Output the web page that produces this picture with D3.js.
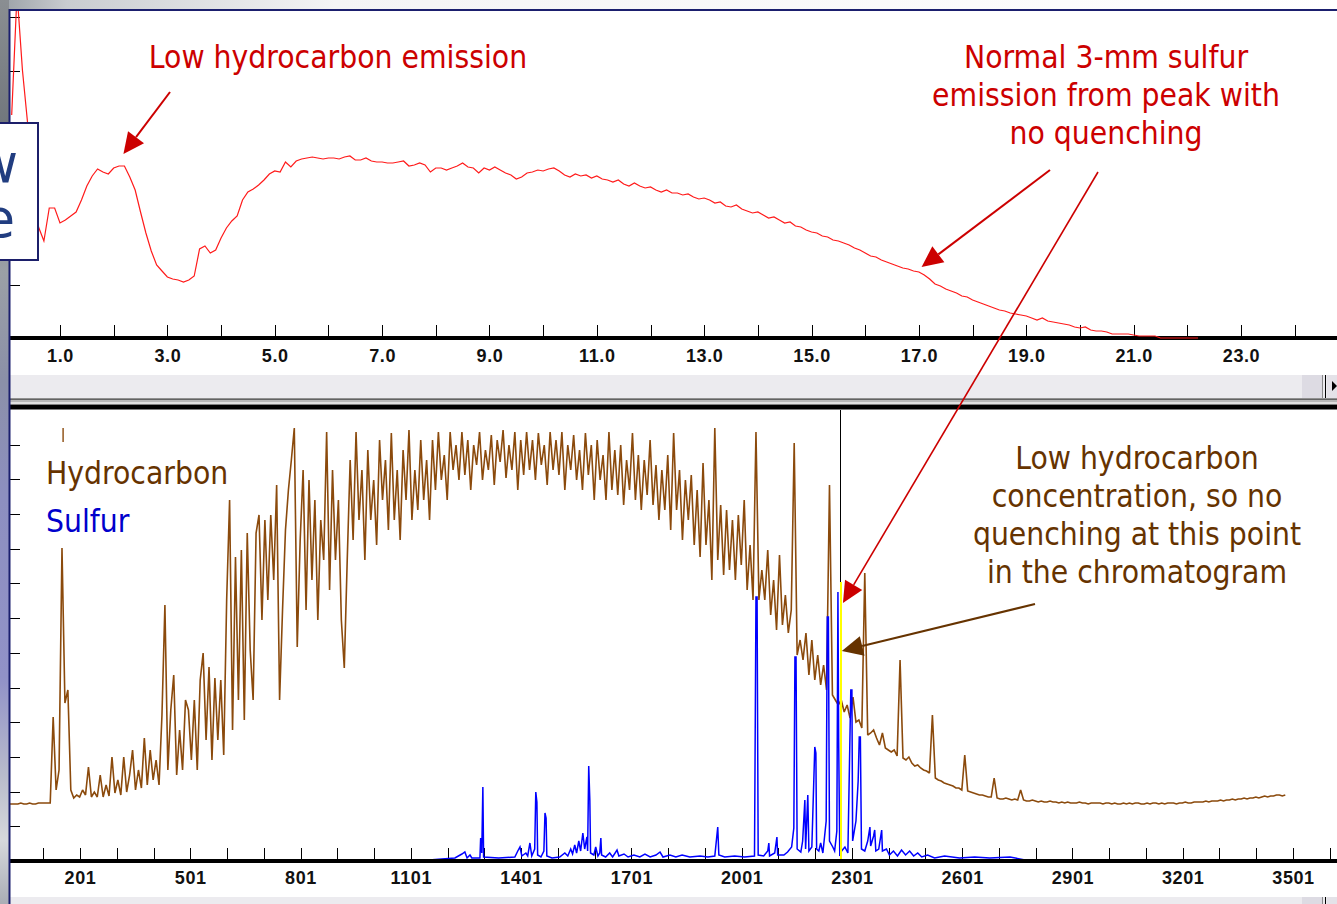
<!DOCTYPE html>
<html>
<head>
<meta charset="utf-8">
<script src="https://cdn.jsdelivr.net/npm/d3@7"></script>
<style>
  html, body { margin: 0; padding: 0; background: #fff; overflow: hidden; }
  svg { display: block; }
</style>
</head>
<body>
<svg id="chart" width="1337" height="904"></svg>
<script>
// ---------------------------------------------------------------
// Upper trace: detector emission vs. retention time (minutes)
// sampled every 0.1 min starting at 0.1 min
// ---------------------------------------------------------------
const emissionStart = 0.1;
const emissionStep = 0.1;
const emission = [
  223,345,268,213,158,111,97,130,130,115,
  118,122,126,138,152,162,169,166,164,170,
  172,172,161,148,126,105,87,73,67,61,
  59,58,56,58,62,89,92,85,88,100,
  110,117,122,138,146,149,153,158,164,167,
  166,176,171,177,179,180,181,180,179,180,
  180,179,181,182,178,178,180,177,176,176,
  175,175,176,177,172,173,175,173,166,170,
  170,168,170,172,175,171,170,165,170,168,
  171,168,165,163,159,161,165,166,168,167,
  169,170,167,163,161,164,162,163,160,162,
  159,158,156,158,154,152,155,152,150,151,
  148,146,148,145,145,143,144,141,139,140,
  138,135,136,132,131,133,129,127,125,126,
  123,120,121,118,115,116,112,111,108,106,
  105,102,101,98,97,95,93,90,88,85,
  82,81,78,76,74,72,70,69,67,66,
  63,59,54,52,49,47,45,42,41,38,
  36,34,32,30,28,27,25,24,23,22,
  20,18,20,17,16,15,14,13,11,10,
  11,8,7,7,6,4,4,4,4,3,
  2,2,2,2,0,0,0,0,0,0,
  0,0
];

// Upper axis: retention time ticks (every minute, labels on odd minutes)
const timeTicks = d3.range(1, 25);
const timeLabels = [1, 3, 5, 7, 9, 11, 13, 15, 17, 19, 21, 23];

// ---------------------------------------------------------------
// Lower chromatogram: hydrocarbon channel, every 8th data point from point 8
// ---------------------------------------------------------------
const hydrocarbonStart = 8;
const hydrocarbonStep = 8;
const hydrocarbon = [
  57,57,57,57,58,57,57,58,57,57,58,58,58,58,58,
  144,71,91,313,158,171,71,63,66,64,71,66,94,64,69,
  64,86,64,76,65,104,68,81,66,104,69,86,111,71,91,
  73,123,76,111,81,101,76,146,256,91,151,186,86,131,91,
  161,151,101,161,91,181,208,121,194,101,183,121,181,106,261,
  361,131,304,161,311,141,328,211,161,328,346,241,341,261,346,
  281,376,161,251,331,371,401,433,214,321,
  391,251,381,281,361,241,341,301,429,271,
  391,301,361,241,193,301,401,321,429,341,
  391,301,411,341,381,316,421,361,401,331,
  428,341,391,321,411,361,431,341,391,351,
  421,361,401,341,421,371,429,381,406,361,
  429,
  391,416,381,429,386,421,371,416,396,429,
  381,411,391,426,376,421,399,431,383,416,
  391,429,371,421,386,429,391,421,381,428,
  396,416,376,429,391,421,386,429,371,416,
  391,426,381,411,
  371,428,386,416,361,421,381,406,361,429,
  371,411,366,416,356,401,371,428,361,406,
  351,401,366,421,356,396,341,391,351,406,
  331,428,351,391,321,381,341,386,316,371,
  304,398,316,361,281,433,301,356,286,351,
  291,341,281,346,296,361,271,316,261,429,
  261,291,261,311,246,281,231,306,236,266,
  228,251,418,206,221,201,228,186,221,181,
  206,176,196,171,376,166,161,156,161,149,
  156,143,164,139,141,133,288,126,128,131,
  123,116,128,113,111,109,111,105,201,103,
  101,104,98,95,96,93,91,90,88,146,
  83,81,80,78,77,76,75,73,73,71,
  106,70,69,68,67,66,66,65,64,64,
  83,63,62,62,63,62,61,62,61,71,
  61,60,60,61,60,59,60,59,59,60,
  59,59,58,59,58,59,58,58,58,59,
  58,58,57,58,58,58,
  58,57,58,58,57,58,57,57,58,57,
  58,57,58,58,57,57,58,57,58,58,
  57,58,57,58,58,58,57,58,58,59,
  58,58,59,59,
  59,59,60,59,60,60,60,61,60,61,
  61,62,61,62,62,63,62,63,63,64,
  63,64,65,64,65,65,66,66,65,66
];
// off-scale top of the early peak near point 155
const hydrocarbonOverflow = [[155, 433, 419]];

// Sulfur channel as [data point, response]
const sulfur = [
  [8,1],[1150,1],[1221,3],[1240,7],[1248,9],[1254,3],[1262,6],[1267,3],
  [1289,3],[1291,23],[1294,8],[1297,74],[1299,4],[1340,3],[1384,4],
  [1392,10],[1398,14],[1403,5],[1414,8],[1419,5],[1425,18],[1430,5],
  [1438,12],[1441,69],[1444,59],[1446,6],[1455,4],[1463,10],[1466,48],
  [1469,43],[1471,5],[1485,3],[1506,4],[1520,8],[1528,5],[1536,12],
  [1541,7],[1547,16],[1552,8],[1558,20],[1563,10],[1569,28],[1574,12],
  [1580,24],[1582,10],[1585,95],[1588,61],[1590,8],[1599,6],[1604,14],
  [1610,5],[1615,8],[1618,23],[1620,6],[1631,4],[1642,8],[1650,4],
  [1662,11],[1667,5],[1681,7],[1692,4],[1708,6],[1724,4],[1738,7],
  [1752,4],[1768,6],[1779,9],[1787,4],[1806,6],[1822,4],[1839,6],
  [1860,4],[1888,5],[1909,4],[1928,5],[1936,34],[1939,6],[1955,4],
  [1982,5],[2009,4],[2036,5],[2040,264],[2043,264],[2046,6],[2061,5],
  [2072,10],[2075,18],[2077,5],[2091,8],[2097,24],[2099,6],[2116,6],
  [2126,9],[2137,14],[2143,33],[2146,204],[2149,204],[2152,12],[2162,9],
  [2167,20],[2173,61],[2175,12],[2181,66],[2184,10],[2192,14],[2200,114],
  [2203,108],[2205,12],[2211,10],[2216,18],[2222,8],[2231,40],[2234,244],
  [2237,244],[2240,20],[2249,14],[2254,10],[2260,30],[2263,269],[2265,120],
  [2268,5],[2273,10],[2282,14],[2290,8],[2298,171],[2301,171],[2303,20],
  [2312,40],[2318,80],[2321,124],[2324,124],[2327,12],[2336,10],[2344,20],
  [2350,34],[2352,15],[2360,25],[2363,31],[2366,10],[2374,12],[2382,31],
  [2384,10],[2395,12],[2403,6],[2414,10],[2425,5],[2436,11],[2447,6],
  [2458,10],[2469,5],[2480,8],[2491,4],[2507,6],[2526,3],[2553,5],
  [2594,3],[2635,4],[2676,3],[2731,4],[2772,1],[3620,1]
];

// Cursor position (data point)
const cursorPoint = 2268;
const cursorResponse = 279;

// Lower axis: data-point ticks (every 100, labels every 300)
const pointTicks = d3.range(101, 3602, 100);
const pointLabels = [201, 501, 801, 1101, 1401, 1701, 2001, 2301, 2601, 2901, 3201, 3501];

// Unlabelled left-edge tick spacing (response counts)
const emissionGrid = d3.range(1, 7).map(k => k * 53.5);
const responseGrid = d3.range(1, 13).map(k => k * 34.7);

// ---------------------------------------------------------------
const W = 1337, H = 904;
const svg = d3.select('#chart');
const defs = svg.append('defs');

const xTime = d3.scaleLinear().domain([1, 23]).range([60, 1241]);
const yEmission = d3.scaleLinear().domain([0, 321]).range([338, 17]);
const xPoint = d3.scaleLinear().domain([201, 3501]).range([80, 1293]);
const yResponse = d3.scaleLinear().domain([0, 451]).range([861, 410]);

// slide backdrop strips
const gLeft = defs.append('linearGradient').attr('id', 'leftStrip')
  .attr('x1', 0).attr('y1', 0).attr('x2', 0).attr('y2', 1);
[[0, '#8a8e92'], [0.15, '#6f757b'], [0.3, '#9ba0a6'], [0.42, '#8b90a8'],
 [0.55, '#8d8fc0'], [0.75, '#9192c8'], [0.86, '#b9bccc'], [0.93, '#d6d8dc'], [1, '#a9adb5']]
  .forEach(([o, c]) => gLeft.append('stop').attr('offset', o).attr('stop-color', c));
const gTop = defs.append('linearGradient').attr('id', 'topStrip')
  .attr('x1', 0).attr('y1', 0).attr('x2', 1).attr('y2', 0);
[[0, '#9aa0a6'], [0.05, '#c9ccd0'], [0.25, '#f4f4f5'], [1, '#ffffff']]
  .forEach(([o, c]) => gTop.append('stop').attr('offset', o).attr('stop-color', c));

svg.append('rect').attr('x', 0).attr('y', 0).attr('width', W).attr('height', 10).attr('fill', 'url(#topStrip)');
svg.append('rect').attr('x', 0).attr('y', 0).attr('width', 9).attr('height', H).attr('fill', 'url(#leftStrip)');
svg.append('rect').attr('x', 9).attr('y', 10).attr('width', W - 9).attr('height', H - 10).attr('fill', '#fff');

// clip regions for the two panels
defs.append('clipPath').attr('id', 'clipTop').append('rect')
  .attr('x', 10).attr('y', 11).attr('width', W - 10).attr('height', 329);
defs.append('clipPath').attr('id', 'clipBottom').append('rect')
  .attr('x', 10).attr('y', 410).attr('width', W - 10).attr('height', 450);

// ---------------- scroll bars ----------------
function scrollBar(y, h) {
  svg.append('rect').attr('x', 10).attr('y', y).attr('width', W - 10).attr('height', h).attr('fill', '#ecebef');
  svg.append('rect').attr('x', 1302).attr('y', y).attr('width', 21).attr('height', h).attr('fill', '#dddbe3');
  svg.append('line').attr('x1', 1322.5).attr('x2', 1322.5).attr('y1', y).attr('y2', y + h).attr('stroke', '#8a8a8a');
  svg.append('line').attr('x1', 1325.5).attr('x2', 1325.5).attr('y1', y).attr('y2', y + h).attr('stroke', '#000');
  svg.append('rect').attr('x', 1327).attr('y', y).attr('width', 10).attr('height', h).attr('fill', '#e4e2e8');
}
scrollBar(375, 23);
svg.append('path').attr('d', 'M1332,381 L1337,386 L1332,391 Z').attr('fill', '#000');
svg.append('rect').attr('x', 10).attr('y', 398.5).attr('width', W - 10).attr('height', 1.2).attr('fill', '#222');
svg.append('rect').attr('x', 10).attr('y', 400).attr('width', W - 10).attr('height', 2).attr('fill', '#b8b8b8');
svg.append('rect').attr('x', 10).attr('y', 402).attr('width', W - 10).attr('height', 2).attr('fill', '#e0e0e0');
svg.append('rect').attr('x', 10).attr('y', 404.5).attr('width', W - 10).attr('height', 5).attr('fill', '#000');
scrollBar(897, 7);

// ---------------- axes ----------------
const fmtTime = d3.format('.1f');
const topAxis = d3.axisBottom(xTime)
  .tickValues(timeTicks)
  .tickSize(-11)
  .tickPadding(13)
  .tickFormat(d => timeLabels.includes(d) ? fmtTime(d) : '');
const bottomAxis = d3.axisBottom(xPoint)
  .tickValues(pointTicks)
  .tickSize(-11)
  .tickPadding(12)
  .tickFormat(d => pointLabels.includes(d) ? String(d) : '');

function styleAxis(g) {
  g.select('.domain').remove();
  g.selectAll('.tick line').attr('stroke', '#000').attr('stroke-width', 1).attr('shape-rendering', 'crispEdges');
  g.selectAll('.tick text')
    .attr('fill', '#111')
    .style('font-family', '"Liberation Sans", Arial, sans-serif')
    .style('font-weight', 'bold')
    .style('font-size', '18px')
    .style('letter-spacing', '0.6px');
}

svg.append('g').attr('transform', 'translate(0,336)').call(topAxis).call(styleAxis);
svg.append('g').attr('transform', 'translate(0,859)').call(bottomAxis).call(styleAxis);

// left-edge ticks
const leftTop = d3.axisRight(yEmission).tickValues(emissionGrid).tickSize(11).tickFormat('');
const leftBottom = d3.axisRight(yResponse).tickValues(responseGrid).tickSize(11).tickFormat('');
svg.append('g').attr('transform', 'translate(9,0)').call(leftTop).call(styleAxis);
svg.append('g').attr('transform', 'translate(9,0)').call(leftBottom).call(styleAxis);

// ---------------- lower chromatogram traces ----------------
const hcLine = d3.line()
  .x((d, i) => xPoint(hydrocarbonStart + i * hydrocarbonStep))
  .y(d => yResponse(d));
const gBottom = svg.append('g').attr('clip-path', 'url(#clipBottom)');
gBottom.append('path')
  .attr('d', hcLine(hydrocarbon))
  .attr('fill', 'none')
  .attr('stroke', '#8b4a0c')
  .attr('stroke-width', 1.6)
  .attr('stroke-linejoin', 'miter')
  .attr('stroke-miterlimit', 2);
gBottom.selectAll('line.overflow').data(hydrocarbonOverflow).join('line')
  .attr('class', 'overflow')
  .attr('x1', d => xPoint(d[0])).attr('x2', d => xPoint(d[0]))
  .attr('y1', d => yResponse(d[1])).attr('y2', d => yResponse(d[2]))
  .attr('stroke', '#8b4a0c').attr('stroke-width', 1.4);

const sLine = d3.line().x(d => xPoint(d[0])).y(d => yResponse(d[1]));
gBottom.append('path')
  .attr('d', sLine(sulfur))
  .attr('fill', 'none')
  .attr('stroke', '#0000ff')
  .attr('stroke-width', 1.5);

// cursor
const cx = Math.round(xPoint(cursorPoint)) + 0.5;
gBottom.append('line').attr('x1', cx).attr('x2', cx).attr('y1', 409).attr('y2', yResponse(cursorResponse))
  .attr('stroke', '#000').attr('stroke-width', 1);
gBottom.append('line').attr('x1', cx + 0.5).attr('x2', cx + 0.5).attr('y1', yResponse(cursorResponse)).attr('y2', 859)
  .attr('stroke', '#ffff00').attr('stroke-width', 2);

// thick axis bars drawn over the trace baselines
svg.append('rect').attr('x', 9).attr('y', 336).attr('width', W - 9).attr('height', 4).attr('fill', '#000');
svg.append('rect').attr('x', 9).attr('y', 859).attr('width', W - 9).attr('height', 4).attr('fill', '#000');

// ---------------- upper emission trace ----------------
const emLine = d3.line()
  .x((d, i) => xTime(emissionStart + i * emissionStep))
  .y(d => yEmission(d));
svg.append('g').attr('clip-path', 'url(#clipTop)')
  .append('path')
  .attr('d', emLine(emission))
  .attr('fill', 'none')
  .attr('stroke', '#ff1a1a')
  .attr('stroke-width', 1.2);

// frame lines
svg.append('rect').attr('x', 9).attr('y', 9).attr('width', W - 9).attr('height', 2).attr('fill', '#1b1f6e');
svg.append('rect').attr('x', 8.5).attr('y', 9).attr('width', 2).attr('height', H - 9).attr('fill', '#1b1f6e');

// overlapping title box from the slide (only the word endings fall inside the frame)
svg.append('rect').attr('x', -6).attr('y', 123).attr('width', 44).attr('height', 137)
  .attr('fill', '#fff').attr('stroke', '#1c1f6a').attr('stroke-width', 2);
const boxText = svg.append('g')
  .style('font-family', '"DejaVu Sans", Verdana, sans-serif')
  .style('font-size', '53px')
  .attr('fill', '#213d80')
  .attr('text-anchor', 'end');
boxText.append('text').attr('x', 18).attr('y', 182).text('w');
boxText.append('text').attr('x', 15).attr('y', 237).text('e');

// ---------------- annotations ----------------
const annoFont = '"DejaVu Sans Condensed", "DejaVu Sans", Verdana, sans-serif';
const annoSize = '31.5px';
function arrow(x1, y1, x2, y2, color, width) {
  const ang = Math.atan2(y2 - y1, x2 - x1);
  const len = 21, half = 10;
  const bx = x2 - len * Math.cos(ang), by = y2 - len * Math.sin(ang);
  svg.append('line').attr('x1', x1).attr('y1', y1).attr('x2', bx).attr('y2', by)
    .attr('stroke', color).attr('stroke-width', width);
  const px = -Math.sin(ang) * half, py = Math.cos(ang) * half;
  svg.append('path')
    .attr('d', `M${x2},${y2} L${bx + px},${by + py} L${bx - px},${by - py} Z`)
    .attr('fill', color);
}
function textBlock(lines, x, y0, dy, color) {
  const t = svg.append('text')
    .attr('text-anchor', 'middle')
    .attr('fill', color)
    .style('font-family', annoFont)
    .style('font-size', annoSize);
  lines.forEach((s, i) => t.append('tspan').attr('x', x).attr('y', y0 + i * dy).text(s));
}

const red = '#cc0000', brown = '#663300';
textBlock(['Low hydrocarbon emission'], 338, 68, 38, red);
textBlock(['Normal 3-mm sulfur', 'emission from peak with', 'no quenching'], 1106, 68, 38, red);
textBlock(['Low hydrocarbon', 'concentration, so no', 'quenching at this point', 'in the chromatogram'], 1137, 469, 38, brown);

arrow(170, 92, xTime(2.2) - 1, yEmission(172) - 12, red, 2);
arrow(1050, 170, xTime(17.05), yEmission(65) - 6, red, 2);
arrow(1098, 172, xPoint(2263) + 5, yResponse(269) + 11, red, 1.6);
arrow(1035, 604, xPoint(cursorPoint) + 2, 651, brown, 2);

// channel legend
const legend = svg.append('g').style('font-family', annoFont).style('font-size', annoSize);
legend.append('text').attr('x', 46).attr('y', 484).attr('fill', brown).text('Hydrocarbon');
legend.append('text').attr('x', 46).attr('y', 532).attr('fill', '#0000cc').text('Sulfur');
</script>
</body>
</html>
